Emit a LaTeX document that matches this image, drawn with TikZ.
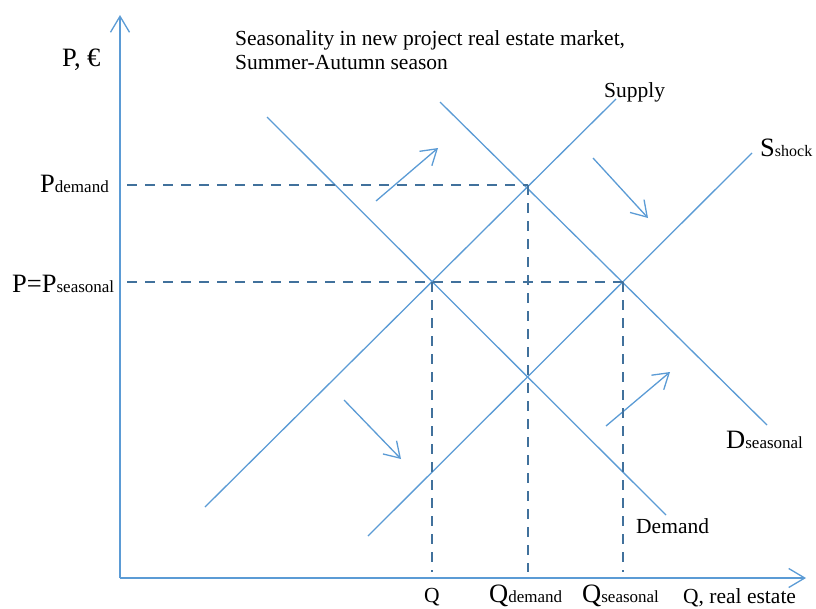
\documentclass[tikz,border=0pt]{standalone}
\usepackage{fontspec}
\setmainfont{Liberation Serif}
\usetikzlibrary{arrows.meta}
\definecolor{curve}{HTML}{5B9BD5}
\definecolor{guide}{HTML}{41719C}
\newcommand{\subtxt}[1]{{\fontsize{17}{20}\selectfont #1}}
\begin{document}
\begin{tikzpicture}[x=1pt,y=-1pt,
  curveline/.style={draw=curve, line width=1.3pt},
  axisline/.style={curveline, -{Straight Barb[length=16pt,width=19pt]}},
  shiftarrow/.style={curveline, -{Straight Barb[length=15pt,width=19pt]}},
  guideline/.style={draw=guide, line width=2.8pt, dash pattern=on 10pt off 8pt},
  lbl/.style={inner sep=0pt, anchor=base west, font=\fontsize{21.5}{24}\selectfont},
  big/.style={inner sep=0pt, anchor=base west, font=\fontsize{26.5}{30}\selectfont}]
\useasboundingbox (0,0) rectangle (816,608);

% axes
\coordinate (O) at (120,578);
\coordinate (ytip) at (120,15);
\coordinate (xtip) at (806,578);
\draw[axisline] (O) -- (ytip);
\draw[axisline] (O) -- (xtip);

% curve end points
\coordinate (s1) at (205,507);
\coordinate (s2) at (616,99);
\coordinate (d1) at (267,117);
\coordinate (d2) at (666,515);
\coordinate (k1) at (368,536);
\coordinate (k2) at (752,153);
\coordinate (e1) at (440,102);
\coordinate (e2) at (767,425);

% equilibrium points
\coordinate (A) at (432,282);
\coordinate (B) at (528,185);
\coordinate (C) at (528,378);
\coordinate (D) at (623,282);

\draw[curveline] (s1) -- (s2);
\draw[curveline] (d1) -- (d2);
\draw[curveline] (k1) -- (k2);
\draw[curveline] (e1) -- (e2);

% shift arrows
\coordinate (a1) at (376,201);
\coordinate (a2) at (438,148);
\coordinate (b1) at (593,158);
\coordinate (b2) at (648,218);
\coordinate (c1) at (344,400);
\coordinate (c2) at (401,459);
\coordinate (f1) at (606,426);
\coordinate (f2) at (670,372);
\draw[shiftarrow] (a1) -- (a2);
\draw[shiftarrow] (b1) -- (b2);
\draw[shiftarrow] (c1) -- (c2);
\draw[shiftarrow] (f1) -- (f2);

% guide lines
\coordinate (hB) at (127,185);
\coordinate (hD) at (127,282);
\coordinate (vA) at (432,572);
\coordinate (vB) at (528,572);
\coordinate (vD) at (623,572);
\draw[guideline] (hB) -- (B);
\draw[guideline] (hD) -- (D);
\draw[guideline] (A) -- (vA);
\draw[guideline] (B) -- (vB);
\draw[guideline] (D) -- (vD);

% labels
\node[big] (py) at (62,66) {P, €};
\node[lbl, align=left, anchor=north west] (title) at (235,30) {Seasonality in new project real estate market,\\Summer-Autumn season};
\node[lbl] (supply) at (604,97) {Supply};
\node[big] (sshock) at (760,156) {S{\fontsize{16}{18}\selectfont shock}};
\node[big] (pdem) at (40,192) {P\subtxt{demand}};
\node[big] (pseas) at (12,292) {P=P\subtxt{seasonal}};
\node[big] (dseas) at (726,448) {D\subtxt{seasonal}};
\node[lbl] (demand) at (636,533) {Demand};
\node[lbl, anchor=base] (q) at (432,602) {Q};
\node[big] (qdem) at (489,602) {Q\subtxt{demand}};
\node[big] (qseas) at (582,602) {Q\subtxt{seasonal}};
\node[lbl] (qaxis) at (683,603) {Q, real estate};
\end{tikzpicture}
\end{document}
